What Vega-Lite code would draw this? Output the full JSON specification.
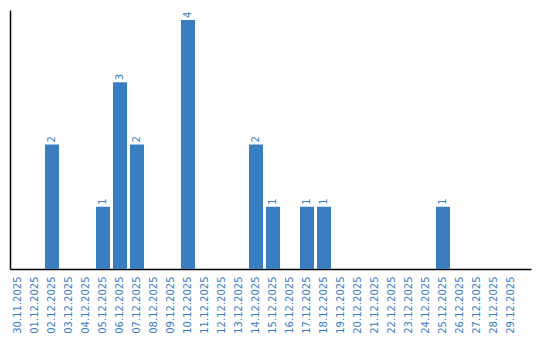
{
  "$schema": "https://vega.github.io/schema/vega-lite/v6.json",
  "autosize": "none",
  "width": 521,
  "height": 259,
  "padding": {"left": 10, "top": 10, "right": 9, "bottom": 71},
  "background": "white",
  "config": {"view": {"stroke": null}, "font": "DejaVu Sans"},
  "data": {"values": [
    {"date": "30.11.2025", "count": 0},
    {"date": "01.12.2025", "count": 0},
    {"date": "02.12.2025", "count": 2},
    {"date": "03.12.2025", "count": 0},
    {"date": "04.12.2025", "count": 0},
    {"date": "05.12.2025", "count": 1},
    {"date": "06.12.2025", "count": 3},
    {"date": "07.12.2025", "count": 2},
    {"date": "08.12.2025", "count": 0},
    {"date": "09.12.2025", "count": 0},
    {"date": "10.12.2025", "count": 4},
    {"date": "11.12.2025", "count": 0},
    {"date": "12.12.2025", "count": 0},
    {"date": "13.12.2025", "count": 0},
    {"date": "14.12.2025", "count": 2},
    {"date": "15.12.2025", "count": 1},
    {"date": "16.12.2025", "count": 0},
    {"date": "17.12.2025", "count": 1},
    {"date": "18.12.2025", "count": 1},
    {"date": "19.12.2025", "count": 0},
    {"date": "20.12.2025", "count": 0},
    {"date": "21.12.2025", "count": 0},
    {"date": "22.12.2025", "count": 0},
    {"date": "23.12.2025", "count": 0},
    {"date": "24.12.2025", "count": 0},
    {"date": "25.12.2025", "count": 1},
    {"date": "26.12.2025", "count": 0},
    {"date": "27.12.2025", "count": 0},
    {"date": "28.12.2025", "count": 0},
    {"date": "29.12.2025", "count": 0}
  ]},
  "encoding": {
    "x": {
      "field": "date", "type": "nominal", "sort": null,
      "scale": {"paddingInner": 0.176, "paddingOuter": 0.41, "align": 0.07},
      "axis": {"title": null, "labelAngle": -90, "labelAlign": "right", "labelBaseline": "middle", "labelFont": "DejaVu Sans", "labelFontSize": 10, "labelColor": "#3a7ec2", "ticks": false, "labelPadding": 7, "domainColor": "black", "domainWidth": 1.5}
    },
    "y": {
      "field": "count", "type": "quantitative",
      "scale": {"domain": [0, 4.16], "nice": false},
      "axis": {"title": null, "labels": false, "ticks": false, "grid": false, "domainColor": "black", "domainWidth": 1.5}
    }
  },
  "layer": [
    {"mark": {"type": "bar", "color": "#3a7ec2"}},
    {
      "transform": [{"filter": "datum.count > 0"}],
      "mark": {"type": "text", "angle": -90, "align": "left", "baseline": "middle", "dx": 2, "font": "DejaVu Sans", "fontSize": 10, "color": "#3a7ec2"},
      "encoding": {"text": {"field": "count", "type": "quantitative"}}
    }
  ]
}
